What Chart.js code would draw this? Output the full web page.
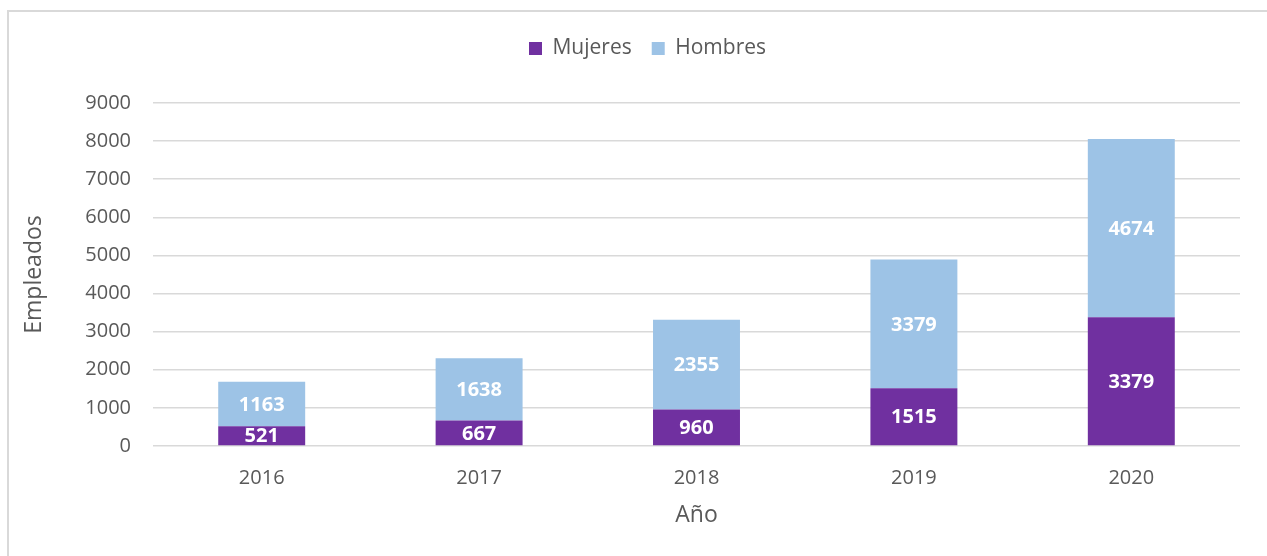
<!DOCTYPE html>
<html>
<head>
<meta charset="utf-8">
<script src="https://cdn.jsdelivr.net/npm/chart.js@4/dist/chart.umd.min.js"></script>
<style>
  html, body { margin: 0; padding: 0; background: #ffffff; }
  .frame {
    position: absolute; left: 7px; top: 10px; right: -10px; bottom: -10px;
    border-left: 2px solid #d9d9d9; border-top: 2px solid #d9d9d9;
  }
  .wrap { position: absolute; left: 0; top: 0; width: 1267px; height: 556px; }
</style>
</head>
<body>
<div class="frame"></div>
<div class="wrap"><canvas id="empChart"></canvas></div>
<script>
const years = ["2016", "2017", "2018", "2019", "2020"];
const mujeres = [521, 667, 960, 1515, 3379];
const hombres = [1163, 1638, 2355, 3379, 4674];
const yTicks = [0, 1000, 2000, 3000, 4000, 5000, 6000, 7000, 8000, 9000];

const TEXT_GRAY = "#595959";
const FONT = "'Open Sans', 'Liberation Sans', sans-serif";

// white labels centred in each bar segment
const barLabels = {
  id: "barLabels",
  afterDatasetsDraw(chart) {
    const ctx = chart.ctx;
    ctx.save();
    ctx.fillStyle = "#ffffff";
    ctx.font = "bold 20px " + FONT;
    ctx.textAlign = "center";
    ctx.textBaseline = "middle";
    chart.data.datasets.forEach((ds, i) => {
      const meta = chart.getDatasetMeta(i);
      meta.data.forEach((bar, j) => {
        const y = (bar.y + bar.base) / 2;
        ctx.fillText(String(ds.data[j]), bar.x, y + 1);
      });
    });
    ctx.restore();
  }
};

// extra room under the legend, and nudge it over the plot centre
const legendGap = {
  id: "legendGap",
  beforeInit(chart) {
    const fit = chart.legend.fit;
    chart.legend.fit = function () {
      fit.call(this);
      this.height += 34;
    };
  },
  afterLayout(chart) {
    chart.legend.left += 17;
    chart.legend.right += 17;
  }
};

const ctx = document.getElementById("empChart");

new Chart(ctx, {
  type: "bar",
  data: {
    labels: years,
    datasets: [
      {
        label: "Mujeres",
        data: mujeres,
        backgroundColor: "#7030a0",
        categoryPercentage: 1,
        barPercentage: 0.4
      },
      {
        label: "Hombres",
        data: hombres,
        backgroundColor: "#9dc3e6",
        categoryPercentage: 1,
        barPercentage: 0.4
      }
    ]
  },
  options: {
    responsive: true,
    maintainAspectRatio: false,
    animation: false,
    layout: {
      padding: { left: 21, right: 27, top: 18, bottom: 27 }
    },
    plugins: {
      legend: {
        display: true,
        position: "top",
        labels: {
          color: TEXT_GRAY,
          font: { family: FONT, size: 21 },
          boxWidth: 13,
          boxHeight: 13,
          padding: 20
        }
      },
      tooltip: { enabled: false }
    },
    scales: {
      x: {
        stacked: true,
        grid: { display: false, drawTicks: false },
        border: { display: false },
        ticks: {
          color: TEXT_GRAY,
          font: { family: FONT, size: 20 },
          padding: 20
        },
        title: {
          display: true,
          text: "Año",
          color: TEXT_GRAY,
          font: { family: FONT, size: 23 },
          padding: 0
        },
        afterFit(scale) {
          scale.height = 83;
        }
      },
      y: {
        stacked: true,
        min: 0,
        max: 9000,
        afterBuildTicks(scale) {
          scale.ticks = yTicks.map((v) => ({ value: v }));
        },
        grid: { color: "#d9d9d9", lineWidth: 1.5, drawTicks: false },
        border: { display: false },
        ticks: {
          color: TEXT_GRAY,
          font: { family: FONT, size: 20 },
          padding: 22,
          callback: (v) => String(v)
        },
        title: {
          display: true,
          text: "Empleados",
          color: TEXT_GRAY,
          font: { family: FONT, size: 23 },
          padding: 0
        },
        afterFit(scale) {
          scale.width = 132;
        }
      }
    }
  },
  plugins: [barLabels, legendGap]
});
</script>
</body>
</html>
